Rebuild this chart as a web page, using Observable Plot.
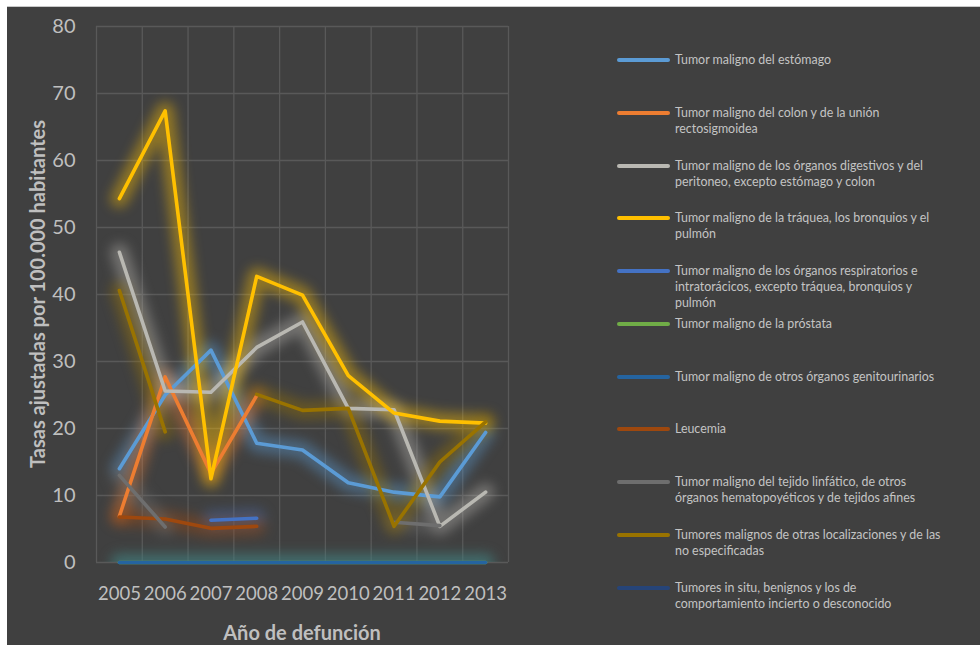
<!DOCTYPE html>
<html>
<head>
<meta charset="utf-8">
<script src="https://cdn.jsdelivr.net/npm/d3@7"></script>
<script src="https://cdn.jsdelivr.net/npm/@observablehq/plot@0.6"></script>
<style>
  html, body { margin: 0; padding: 0; background: #ffffff; width: 980px; height: 645px; overflow: hidden; }
  #panel { position: absolute; left: 7px; top: 6px; width: 973px; height: 639px; background: #404040; border-top: 1px solid #c8c8c8; }
  #chart { position: absolute; left: 0; top: 0; }
  .ytitle { position: absolute; left: 37px; top: 294px; transform: translate(-50%, -50%) rotate(-90deg); white-space: nowrap;
            font-family: Lato, sans-serif; font-weight: bold; font-size: 20px; color: #bfbfbf; }
  .xtitle { position: absolute; left: 302px; top: 632px; transform: translate(-50%, -50%); white-space: nowrap;
            font-family: Lato, sans-serif; font-weight: bold; font-size: 20px; color: #bfbfbf; }
  .leg { position: absolute; left: 617px; font-family: Lato, sans-serif; font-size: 12.4px; color: #c4c4c4; line-height: 16px; }
  .leg .sw { position: absolute; left: 0; top: 6px; width: 53px; height: 4px; border-radius: 2px; }
  .leg .tx { position: absolute; left: 58px; top: 0; white-space: nowrap; }
</style>
</head>
<body>
<div id="panel"></div>
<div id="chart"></div>
<div class="ytitle">Tasas ajustadas por 100.000 habitantes</div>
<div class="xtitle">Año de defunción</div>
<div id="legend"></div>
<script>
const years = [2005, 2006, 2007, 2008, 2009, 2010, 2011, 2012, 2013];
const yTicks = [0, 10, 20, 30, 40, 50, 60, 70, 80];

const seriesNames = [
  "Tumor maligno del estómago",
  "Tumor maligno del colon y de la unión rectosigmoidea",
  "Tumor maligno de los órganos digestivos y del peritoneo, excepto estómago y colon",
  "Tumor maligno de la tráquea, los bronquios y el pulmón",
  "Tumor maligno de los órganos respiratorios e intratorácicos, excepto tráquea, bronquios y pulmón",
  "Tumor maligno de la próstata",
  "Tumor maligno de otros órganos genitourinarios",
  "Leucemia",
  "Tumor maligno del tejido linfático, de otros órganos hematopoyéticos y de tejidos afines",
  "Tumores malignos de otras localizaciones y de las no especificadas",
  "Tumores in situ, benignos y los de comportamiento incierto o desconocido"
];
const legendLines = [
  ["Tumor maligno del estómago"],
  ["Tumor maligno del colon y de la unión", "rectosigmoidea"],
  ["Tumor maligno de los órganos digestivos y del", "peritoneo, excepto estómago y colon"],
  ["Tumor maligno de la tráquea, los bronquios y el", "pulmón"],
  ["Tumor maligno de los órganos respiratorios e", "intratorácicos, excepto tráquea, bronquios y", "pulmón"],
  ["Tumor maligno de la próstata"],
  ["Tumor maligno de otros órganos genitourinarios"],
  ["Leucemia"],
  ["Tumor maligno del tejido linfático, de otros", "órganos hematopoyéticos y de tejidos afines"],
  ["Tumores malignos de otras localizaciones y de las", "no especificadas"],
  ["Tumores in situ, benignos y los de", "comportamiento incierto o desconocido"]
];
const seriesColors = ["#5b9bd5", "#ed7d31", "#b9b8b2", "#ffc000", "#4472c4", "#70ad47", "#2564a0", "#9e480e", "#6e6e6e", "#997300", "#264478"];

const estomago     = [14.0, 25.0, 31.7, 17.8, 16.8, 11.9, 10.5, 9.8, 19.4];
const colon        = [6.9, 27.7, 13.3, 24.9, null, null, null, null, null];
const digestivos   = [46.3, 25.6, 25.4, 32.1, 35.9, 23.0, 22.8, 5.4, 10.5];
const traquea      = [54.3, 67.4, 12.5, 42.7, 39.9, 27.9, 22.3, 21.1, 20.8];
const respiratorios= [null, null, 6.3, 6.6, null, null, null, null, null];
const prostata     = [0, 0, 0, 0, 0, 0, 0, 0, 0];
const genitourin   = [0, 0, 0, 0, 0, 0, 0, 0, 0];
const leucemia     = [6.8, 6.5, 5.1, 5.4, null, null, null, null, null];
const linfatico    = [13.0, 5.3, null, null, null, null, 6.0, 5.5, null];
const otras        = [40.6, 19.5, null, 25.1, 22.7, 23.0, 5.4, 15.0, 21.0];
const insitu       = [null, null, null, null, null, null, null, null, null];

const allValues = [estomago, colon, digestivos, traquea, respiratorios, prostata, genitourin, leucemia, linfatico, otras, insitu];

const data = [];
allValues.forEach((vals, i) => {
  years.forEach((yr, j) => data.push({series: seriesNames[i], year: yr, value: vals[j] == null ? NaN : vals[j]}));
});
const boundaries = [years[0] - 0.5, ...years.map(y => y + 0.5)];

const chart = Plot.plot({
  width: 560,
  height: 645,
  marginLeft: 96,
  marginRight: 52,
  marginTop: 26,
  marginBottom: 83,
  style: {background: "transparent", fontFamily: "Lato, sans-serif", overflow: "visible"},
  x: {domain: [years[0] - 0.5, years[years.length - 1] + 0.5], ticks: years, tickFormat: "d", tickSize: 0, tickPadding: 25, label: null},
  y: {domain: [0, 80], ticks: yTicks, tickSize: 0, tickPadding: 21, label: null},
  color: {domain: seriesNames, range: seriesColors, legend: false},
  marks: [
    Plot.ruleY(yTicks, {stroke: "#595959", strokeWidth: 1.3}),
    Plot.ruleX(boundaries, {y1: 0, y2: 80, stroke: "#595959", strokeWidth: 1.3}),
    Plot.line(data, {x: "year", y: "value", z: "series", stroke: "series", strokeWidth: 18, strokeOpacity: 0.42, curve: "linear", strokeLinejoin: "round", strokeLinecap: "round", clip: true}),
    Plot.line(data, {x: "year", y: "value", z: "series", stroke: "series", strokeWidth: 3.6, curve: "linear", strokeLinejoin: "round", strokeLinecap: "round"}),
    Plot.axisX({ticks: years, tickFormat: "d", tickSize: 0, tickPadding: 24, fontSize: 18.5, fill: "#bfbfbf", label: null}),
    Plot.axisY({ticks: yTicks, tickSize: 0, tickPadding: 21, fontSize: 20, fill: "#bfbfbf", label: null})
  ]
});
document.getElementById("chart").appendChild(chart);

// soft glow like the original effect
const lineGroups = chart.querySelectorAll('g[aria-label="line"]');
if (lineGroups.length) {
  lineGroups[0].style.filter = "blur(6px)";
}

// legend
const legend = document.getElementById("legend");
legendLines.forEach((lines, i) => {
  const item = document.createElement("div");
  item.className = "leg";
  item.style.top = (52 + i * 52.77) + "px";
  const sw = document.createElement("div");
  sw.className = "sw";
  sw.style.background = seriesColors[i];
  const tx = document.createElement("div");
  tx.className = "tx";
  tx.innerHTML = lines.join("<br>");
  item.appendChild(sw);
  item.appendChild(tx);
  legend.appendChild(item);
});
</script>
</body>
</html>
